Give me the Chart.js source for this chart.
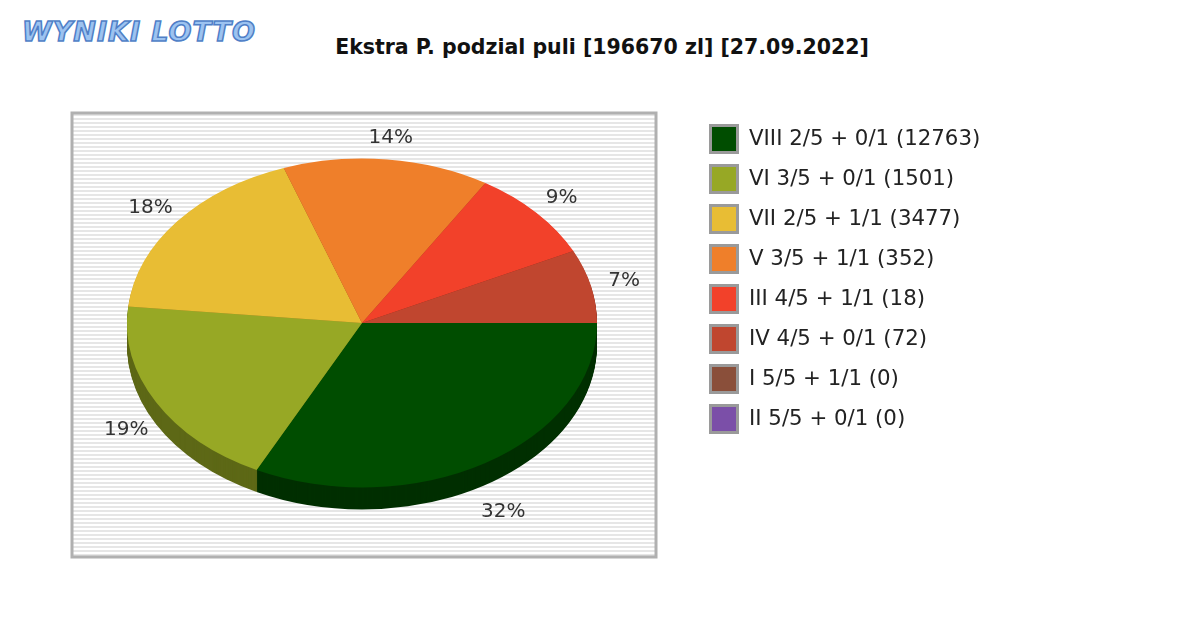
<!DOCTYPE html>
<html><head><meta charset="utf-8">
<script src="https://cdn.jsdelivr.net/npm/chart.js@4"></script>
<style>
body{margin:0;width:1200px;height:630px;background:#fff;overflow:hidden;font-family:"DejaVu Sans",sans-serif;position:relative}
#t{position:absolute;top:35px;left:0;width:1204px;text-align:center;font-weight:bold;font-size:20.5px;color:#111}
#logo{position:absolute;left:22px;top:16px;font:bold italic 27px "DejaVu Sans";color:#9cc3f0;letter-spacing:1px;-webkit-text-stroke:1.5px #4f7fc7}
#lg{position:absolute;left:709px;top:124px}
.r{height:40px;display:flex;align-items:flex-start;font-size:21.3px;color:#222}
.b{width:24px;height:24px;border:3px solid #9a9a9a;margin-right:10px}
canvas{position:absolute;left:0;top:0}
</style></head><body>
<div id="logo">WYNIKI LOTTO</div>
<div id="t">Ekstra P. podzial puli [196670 zl] [27.09.2022]</div>
<canvas id="c" width="1200" height="630"></canvas>
<div id="lg"></div>
<script>
const labels=["VIII 2/5 + 0/1 (12763)","VI 3/5 + 0/1 (1501)","VII 2/5 + 1/1 (3477)","V 3/5 + 1/1 (352)","III 4/5 + 1/1 (18)","IV 4/5 + 0/1 (72)","I 5/5 + 1/1 (0)","II 5/5 + 0/1 (0)"];
const values=[32.4,19.2,18.0,14.2,9.0,7.2,0,0];
const pctLabels=["32%","19%","18%","14%","9%","7%","",""];
const colors=["#004d00","#97a825","#e8bd34","#ef7f2a","#f2412a","#c0462f","#8a4f3a","#7b4fa8"];
const SY=0.70,DEPTH=22;
const lg=document.getElementById('lg');
labels.forEach((l,i)=>{lg.innerHTML+=`<div class="r"><div class="b" style="background:${colors[i]}"></div><span style="margin-top:1px">${l}</span></div>`});
function dark(h,f){const n=parseInt(h.slice(1),16);return `rgb(${((n>>16)&255)*f|0},${((n>>8)&255)*f|0},${(n&255)*f|0})`}
const bg={id:'bg',beforeDraw(c){const x=c.ctx;x.save();x.fillStyle='#fff';x.fillRect(72,113,584,444);
 for(let y=114;y<557;y+=4){x.fillStyle='#e6e6e6';x.fillRect(72,y,584,2);}
 x.strokeStyle='#b0b0b0';x.lineWidth=3;x.strokeRect(72,113,584,444);x.restore();}};
const sq={id:'sq',beforeDatasetsDraw(c){const x=c.ctx,m=c.getDatasetMeta(0);const e=m.data[0];const cx=e.x,cy=e.y;
 x.save();
 for(let d=DEPTH;d>0;d--){m.data.forEach((a,i)=>{if(!values[i])return;x.save();x.translate(cx,cy+d);x.scale(1,SY);
  x.beginPath();x.moveTo(0,0);x.arc(0,0,a.outerRadius,a.startAngle,a.endAngle);x.closePath();x.fillStyle=dark(colors[i],0.62);x.fill();x.restore();});}
 x.restore();
 x.save();x.translate(cx,cy);x.scale(1,SY);x.translate(-cx,-cy);},
 afterDatasetsDraw(c){const x=c.ctx;x.restore();const m=c.getDatasetMeta(0);
 x.save();x.font='20px "DejaVu Sans"';x.fillStyle='#333';x.textAlign='center';x.textBaseline='middle';
 m.data.forEach((a,i)=>{if(!pctLabels[i])return;const t=(a.startAngle+a.endAngle)/2;const R=a.outerRadius+34;
  const s=Math.sin(t);let y=a.y+s*(s<0?186:222);
  x.fillText(pctLabels[i],a.x+Math.cos(t)*R,y);});x.restore();}};
new Chart(document.getElementById('c'),{type:'pie',
 data:{labels,datasets:[{data:values,backgroundColor:colors,borderWidth:0}]},
 options:{responsive:false,animation:false,rotation:90,
  layout:{padding:{left:127,right:603,top:88,bottom:72}},
  plugins:{legend:{display:false},tooltip:{enabled:false}}},
 plugins:[bg,sq]});
</script></body></html>
